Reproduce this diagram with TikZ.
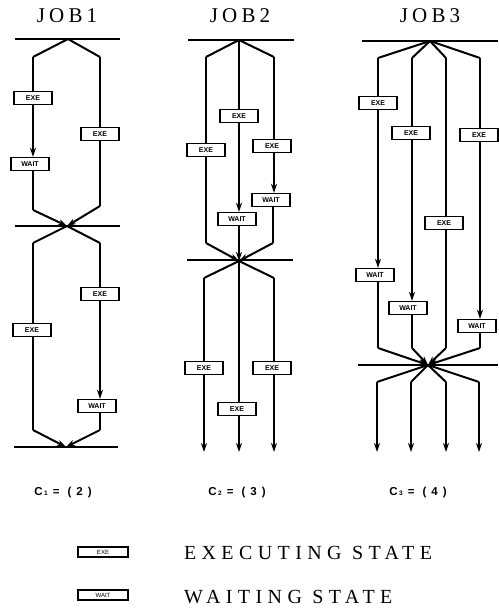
\documentclass[tikz,border=0pt]{standalone}
\usepackage{fontspec}
\setmainfont{Liberation Serif}
\newfontfamily\sansf{Liberation Sans}
\newfontfamily\titlef[LetterSpace=20]{Liberation Serif}
\newfontfamily\legf[LetterSpace=27]{Liberation Serif}
\usetikzlibrary{arrows.meta}
\newcommand{\clabel}[2]{C\hspace{1.5pt}{\fontsize{6.5}{6.5}\selectfont #1}\hspace{5pt}=\hspace{8pt}(\hspace{5pt}#2\hspace{5pt})}
\begin{document}
\begin{tikzpicture}[x=1pt,y=-1pt,
  line width=1.4pt,
  box/.style={draw,fill=white,line width=1.4pt,minimum width=38pt,minimum height=13pt,inner sep=0pt,font=\sansf\bfseries\fontsize{7}{7}\selectfont},
  lbox/.style={draw,line width=1.3pt,minimum width=50pt,minimum height=10pt,inner sep=0pt,font=\sansf\fontsize{6}{6}\selectfont},
  bar/.style={line width=1.6pt},
  diag/.style={line width=2pt},
  arr/.style={-{Stealth[length=9pt,width=6pt]}},
  title/.style={font=\titlef\fontsize{21}{21}\selectfont},
  clab/.style={font=\sansf\bfseries\fontsize{11.5}{11.5}\selectfont},
  legend/.style={anchor=west,font=\legf\fontsize{20}{20}\selectfont}
]
\useasboundingbox (0,0) rectangle (498,610);

% ---------- JOB 1 ----------
\node[title] (t1) at (67,16) {JOB1};
\coordinate (p1a) at (15,39); \coordinate (q1a) at (120,39);
\coordinate (m1a) at (68,39);
\coordinate (m1b) at (67,226);
\coordinate (p1b) at (15,226); \coordinate (q1b) at (120,226);
\coordinate (m1c) at (66,447);
\coordinate (p1c) at (14,447); \coordinate (q1c) at (118,447);
\draw[bar] (p1a) -- (q1a);
\draw[bar] (p1b) -- (q1b);
\draw[bar] (p1c) -- (q1c);
\coordinate (b1L) at (33,57); \coordinate (b1R) at (100,57);
\coordinate (c1L) at (33,210); \coordinate (c1R) at (100,206);
\node[box] (e1a) at (33,98) {EXE};
\node[box] (w1a) at (30,164) {WAIT};
\node[box] (e1b) at (100,134) {EXE};
\draw[diag] (m1a) -- (b1L); \draw[diag] (m1a) -- (b1R);
\draw (b1L) -- (e1a);
\draw[arr] (e1a) -- (e1a |- w1a.north);
\draw (w1a.south -| c1L) -- (c1L);
\draw[diag,arr] (c1L) -- (m1b);
\draw (b1R) -- (e1b) -- (c1R);
\draw[diag,arr] (c1R) -- (m1b);
% lower half
\coordinate (d1L) at (33,243); \coordinate (d1R) at (100,243);
\coordinate (f1L) at (33,430); \coordinate (f1R) at (100,430);
\node[box] (e1c) at (32,330) {EXE};
\node[box] (e1d) at (100,294) {EXE};
\node[box] (w1b) at (97,406) {WAIT};
\draw[diag] (m1b) -- (d1L); \draw[diag] (m1b) -- (d1R);
\draw (d1L) -- (e1c.north -| d1L);
\draw (e1c.south -| d1L) -- (f1L);
\draw[diag,arr] (f1L) -- (m1c);
\draw (d1R) -- (e1d);
\draw[arr] (e1d) -- (e1d |- w1b.north);
\draw (w1b.south -| f1R) -- (f1R);
\draw[diag,arr] (f1R) -- (m1c);

% ---------- JOB 2 ----------
\node[title] (t2) at (240,16) {JOB2};
\coordinate (p2a) at (188,40); \coordinate (q2a) at (294,40);
\coordinate (m2a) at (239,40);
\coordinate (p2b) at (187,260); \coordinate (q2b) at (293,260);
\coordinate (m2b) at (239,261);
\draw[bar] (p2a) -- (q2a);
\draw[bar] (p2b) -- (q2b);
\coordinate (b2L) at (206,57); \coordinate (b2R) at (274,57);
\coordinate (c2L) at (206,243); \coordinate (c2R) at (273,243);
\node[box] (e2a) at (239,116) {EXE};
\node[box] (w2a) at (237,219) {WAIT};
\node[box] (e2b) at (206,150) {EXE};
\node[box] (e2c) at (272,146) {EXE};
\node[box] (w2b) at (271,200) {WAIT};
\draw[diag] (m2a) -- (b2L); \draw[diag] (m2a) -- (b2R);
\draw (m2a) -- (e2a);
\draw[arr] (e2a) -- (e2a |- w2a.north);
\draw[arr] (w2a.south -| m2b) -- (m2b);
\draw (b2L) -- (e2b.north -| b2L);
\draw (e2b.south -| b2L) -- (c2L);
\draw[diag,arr] (c2L) -- (m2b);
\draw (b2R) -- (e2c.north -| b2R);
\draw[arr] (e2c.south -| b2R) -- (b2R |- w2b.north);
\draw (w2b.south -| c2R) -- (c2R);
\draw[diag,arr] (c2R) -- (m2b);
% lower half
\coordinate (d2L) at (204,278); \coordinate (d2R) at (274,278);
\coordinate (o2L) at (204,452); \coordinate (o2M) at (239,452); \coordinate (o2R) at (274,452);
\node[box] (e2d) at (204,368) {EXE};
\node[box] (e2e) at (237,409) {EXE};
\node[box] (e2f) at (272,368) {EXE};
\draw[diag] (m2b) -- (d2L); \draw[diag] (m2b) -- (d2R);
\draw (d2L) -- (e2d);
\draw[arr] (e2d) -- (o2L);
\draw (m2b) -- (e2e.north -| o2M);
\draw[arr] (e2e.south -| o2M) -- (o2M);
\draw (d2R) -- (e2f.north -| d2R);
\draw[arr] (e2f.south -| d2R) -- (o2R);

% ---------- JOB 3 ----------
\node[title] (t3) at (430,16) {JOB3};
\coordinate (p3a) at (362,41); \coordinate (q3a) at (498,41);
\coordinate (m3a) at (430,41);
\coordinate (p3b) at (358,365); \coordinate (q3b) at (498,365);
\coordinate (m3b) at (428,365);
\draw[bar] (p3a) -- (q3a);
\draw[bar] (p3b) -- (q3b);
\coordinate (b3A) at (378,58); \coordinate (b3B) at (412,58);
\coordinate (b3C) at (446,58); \coordinate (b3D) at (480,58);
\coordinate (c3A) at (378,348); \coordinate (c3B) at (412,348);
\coordinate (c3C) at (446,348); \coordinate (c3D) at (480,348);
\node[box] (e3a) at (378,103) {EXE};
\node[box] (e3b) at (411,133) {EXE};
\node[box] (e3c) at (444,223) {EXE};
\node[box] (e3d) at (479,135) {EXE};
\node[box] (w3a) at (375,275) {WAIT};
\node[box] (w3b) at (408,308) {WAIT};
\node[box] (w3d) at (477,326) {WAIT};
\draw[diag] (m3a) -- (b3A); \draw[diag] (m3a) -- (b3B);
\draw[diag] (m3a) -- (b3C); \draw[diag] (m3a) -- (b3D);
\draw (b3A) -- (e3a.north -| b3A);
\draw[arr] (e3a.south -| b3A) -- (b3A |- w3a.north);
\draw (w3a.south -| c3A) -- (c3A);
\draw[diag,arr] (c3A) -- (m3b);
\draw (b3B) -- (e3b.north -| b3B);
\draw[arr] (e3b.south -| b3B) -- (b3B |- w3b.north);
\draw (w3b.south -| c3B) -- (c3B);
\draw[diag,arr] (c3B) -- (m3b);
\draw (b3C) -- (e3c.north -| b3C);
\draw (e3c.south -| b3C) -- (c3C);
\draw[diag,arr] (c3C) -- (m3b);
\draw (b3D) -- (e3d.north -| b3D);
\draw[arr] (e3d.south -| b3D) -- (b3D |- w3d.north);
\draw (w3d.south -| c3D) -- (c3D);
\draw[diag,arr] (c3D) -- (m3b);
% outputs
\coordinate (d3A) at (377,382); \coordinate (d3B) at (411,382);
\coordinate (d3C) at (446,382); \coordinate (d3D) at (479,382);
\coordinate (o3A) at (377,452); \coordinate (o3B) at (411,452);
\coordinate (o3C) at (446,452); \coordinate (o3D) at (479,452);
\draw[diag] (m3b) -- (d3A); \draw[diag] (m3b) -- (d3B);
\draw[diag] (m3b) -- (d3C); \draw[diag] (m3b) -- (d3D);
\draw[arr] (d3A) -- (o3A);
\draw[arr] (d3B) -- (o3B);
\draw[arr] (d3C) -- (o3C);
\draw[arr] (d3D) -- (o3D);

% ---------- labels ----------
\node[clab] (k1) at (63,493) {\clabel{1}{2}};
\node[clab] (k2) at (237,493) {\clabel{2}{3}};
\node[clab] (k3) at (418,493) {\clabel{3}{4}};

% ---------- legend ----------
\node[lbox] (le) at (103,552) {EXE};
\node[lbox] (lw) at (103,595) {WAIT};
\node[legend] (te) at (180,553) {EXECUTING STATE};
\node[legend] (tw) at (180,597) {WAITING STATE};
\end{tikzpicture}
\end{document}
